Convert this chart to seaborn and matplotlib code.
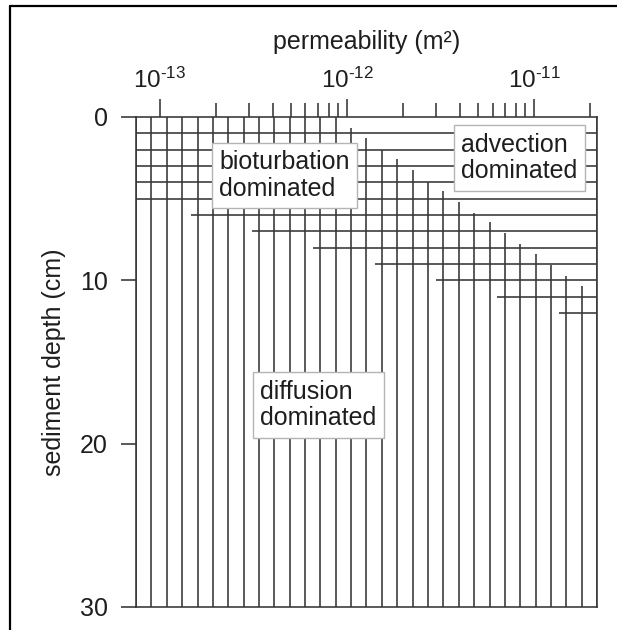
import matplotlib
matplotlib.use("Agg")
import matplotlib.pyplot as plt
import seaborn as sns
import pandas as pd
from matplotlib.lines import Line2D

# ---------------- data ----------------
# permeability (m^2) of each vertical line
perm_lines = [7.45e-14, 9.00e-14, 1.09e-13, 1.31e-13, 1.59e-13, 1.92e-13,
              2.32e-13, 2.80e-13, 3.38e-13, 4.09e-13, 4.94e-13, 5.97e-13,
              7.21e-13, 8.71e-13, 1.05e-12, 1.27e-12, 1.54e-12, 1.86e-12,
              2.24e-12, 2.71e-12, 3.27e-12, 3.96e-12, 4.79e-12, 5.78e-12,
              6.98e-12, 8.43e-12, 1.02e-11, 1.23e-11, 1.49e-11, 1.80e-11,
              2.17e-11]
# sediment depth (cm) where each vertical line begins (it runs down to max depth)
perm_line_top = [0, 0, 0, 0, 0, 0, 0, 0, 0, 0, 0, 0, 0, 0,
                 0.7, 1.3, 2.0, 2.6, 3.25, 3.95, 4.5, 5.2, 5.9, 6.45,
                 7.1, 7.75, 8.4, 9.05, 9.75, 10.35, 0]
# depth (cm) of each horizontal line and permeability where it begins
depth_lines = [1, 2, 3, 4, 5, 6, 7, 8, 9, 10, 11, 12]
depth_line_start = [7.45e-14, 7.45e-14, 7.45e-14, 7.45e-14, 7.45e-14,
                    1.47e-13, 3.10e-13, 6.58e-13, 1.41e-12, 2.99e-12,
                    6.34e-12, 1.36e-11]
perm_min, perm_max = 7.45e-14, 2.17e-11
depth_max = 30

x_major_ticks = [1e-13, 1e-12, 1e-11]
x_major_labels = ["$\\mathregular{10^{\u201013}}$", "$\\mathregular{10^{\u201012}}$",
                  "$\\mathregular{10^{\u201011}}$"]
x_minor_ticks = [2e-13, 3e-13, 4e-13, 5e-13, 6e-13, 7e-13, 8e-13, 9e-13,
                 2e-12, 3e-12, 4e-12, 5e-12, 6e-12, 7e-12, 8e-12, 9e-12,
                 2e-11]
y_ticks = [0, 10, 20, 30]

region_labels = ["bioturbation\ndominated", "advection\ndominated",
                 "diffusion\ndominated"]
region_x = [2.07e-13, 4.07e-12, 3.43e-13]
region_y = [3.58, 2.51, 17.64]

# ---------------- style ----------------
sns.set_style("white")
plt.rcParams["font.family"] = ["Liberation Sans", "DejaVu Sans"]
plt.rcParams["mathtext.fontset"] = "custom"
plt.rcParams["mathtext.rm"] = "Liberation Sans"
plt.rcParams["mathtext.it"] = "Liberation Sans:italic"
plt.rcParams["mathtext.bf"] = "Liberation Sans:bold"

LC = "#353535"
LW = 1.15
TC = "#1e1e1e"
FS = 18

rows = []
seg = 0
for p, top in zip(perm_lines, perm_line_top):
    rows.append((seg, p, top))
    rows.append((seg, p, depth_max))
    seg += 1
for d, s in zip(depth_lines, depth_line_start):
    rows.append((seg, s, d))
    rows.append((seg, perm_max, d))
    seg += 1
df = pd.DataFrame(rows, columns=["seg", "perm", "depth"])

fig = plt.figure(figsize=(6.17, 6.30), dpi=100)
ax = fig.add_axes([136 / 617, 1 - 607 / 630, (597 - 136) / 617, (607 - 117) / 630])
ax.set_xscale("log")

sns.lineplot(data=df, x="perm", y="depth", units="seg", estimator=None,
             sort=False, color=LC, linewidth=LW, legend=False, ax=ax,
             solid_capstyle="butt")

ax.set_xlim(perm_min, perm_max)
ax.set_ylim(depth_max, 0)

ax.xaxis.tick_top()
ax.xaxis.set_label_position("top")
ax.set_xticks(x_major_ticks)
ax.set_xticklabels(x_major_labels)
ax.set_xticks(x_minor_ticks, minor=True)
ax.set_xticklabels([], minor=True)
ax.set_yticks(y_ticks)
ax.set_yticklabels([str(v) for v in y_ticks])

ax.tick_params(axis="x", which="major", direction="out", length=13, width=LW,
               color=LC, labelsize=17.5, pad=4, labelcolor=TC, top=True, bottom=False)
ax.tick_params(axis="x", which="minor", direction="out", length=10, width=LW,
               color=LC, top=True, bottom=False)
ax.tick_params(axis="y", which="major", direction="out", length=10.5, width=LW,
               color=LC, labelsize=FS, pad=10, labelcolor=TC, left=True, right=False)

ax.set_xlabel("permeability (m²)", fontsize=FS, color=TC, labelpad=14)
ax.set_ylabel("sediment depth (cm)", fontsize=FS, color=TC, labelpad=10)

for sp in ax.spines.values():
    sp.set_visible(True)
    sp.set_color(LC)
    sp.set_linewidth(LW)

for lab, x, y in zip(region_labels, region_x, region_y):
    ax.text(x, y, lab, ha="left", va="center", fontsize=FS, color=TC,
            linespacing=1.12, zorder=5,
            bbox=dict(boxstyle="square,pad=0.3", fc="white", ec="#b4b4b4", lw=1.0))

# outer frame (left and top edges)
fig.add_artist(Line2D([10 / 617, 10 / 617], [0, 1 - 6 / 630],
                      transform=fig.transFigure, color="black", lw=1.6))
fig.add_artist(Line2D([10 / 617, 1], [1 - 6 / 630, 1 - 6 / 630],
                      transform=fig.transFigure, color="black", lw=1.6))

fig.savefig("out.png", dpi=100, facecolor="white")
